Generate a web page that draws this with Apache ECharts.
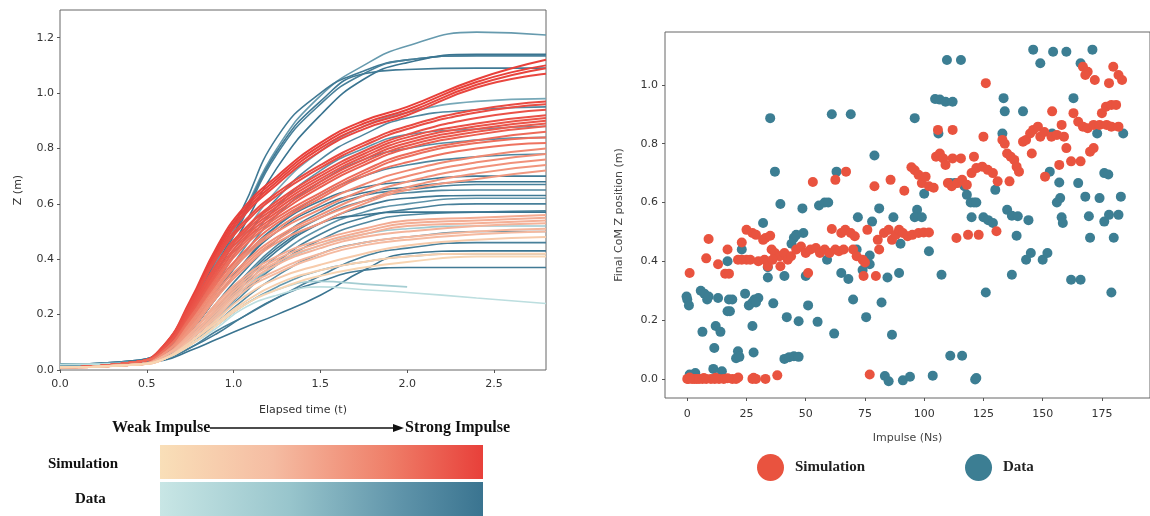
<!DOCTYPE html>
<html>
<head>
<meta charset="utf-8">
<title>Impulse vs Z</title>
<script src="https://cdn.jsdelivr.net/npm/echarts@6/dist/echarts.min.js"></script>
<style>
  html, body { margin: 0; padding: 0; background: #fff; }
  #main { width: 1150px; height: 516px; }
</style>
</head>
<body>
<div id="main"></div>
<script>
// time samples for the trajectories (s)
var times = [0, 0.45, 0.6, 0.75, 0.9, 1.05, 1.25, 1.5, 1.75, 2.0, 2.4, 2.8];

// measured trajectories (Data), one row per trial
var dataCurves = [
  [0.02, 0.035, 0.08, 0.21, 0.39, 0.56, 0.80, 0.99, 1.10, 1.17, 1.22, 1.21],
  [0.02, 0.035, 0.085, 0.22, 0.40, 0.58, 0.84, 1.00, 1.08, 1.12, 1.135, 1.135],
  [0.02, 0.03, 0.075, 0.20, 0.37, 0.54, 0.78, 0.96, 1.07, 1.12, 1.135, 1.135],
  [0.02, 0.03, 0.07, 0.19, 0.35, 0.51, 0.73, 0.92, 1.05, 1.11, 1.14, 1.14],
  [0.02, 0.035, 0.08, 0.21, 0.38, 0.55, 0.79, 0.97, 1.07, 1.085, 1.09, 1.09],
  [0.02, 0.03, 0.07, 0.18, 0.33, 0.48, 0.65, 0.79, 0.88, 0.93, 0.97, 0.98],
  [0.02, 0.03, 0.07, 0.17, 0.31, 0.46, 0.62, 0.76, 0.85, 0.91, 0.94, 0.95],
  [0.02, 0.03, 0.065, 0.16, 0.29, 0.43, 0.59, 0.72, 0.80, 0.85, 0.87, 0.88],
  [0.02, 0.03, 0.06, 0.15, 0.28, 0.41, 0.56, 0.68, 0.76, 0.80, 0.83, 0.84],
  [0.02, 0.03, 0.06, 0.14, 0.26, 0.38, 0.52, 0.63, 0.70, 0.74, 0.77, 0.78],
  [0.02, 0.03, 0.06, 0.15, 0.28, 0.40, 0.52, 0.61, 0.66, 0.68, 0.70, 0.70],
  [0.02, 0.03, 0.06, 0.14, 0.26, 0.38, 0.50, 0.59, 0.64, 0.66, 0.68, 0.68],
  [0.02, 0.03, 0.055, 0.13, 0.24, 0.35, 0.47, 0.57, 0.63, 0.65, 0.67, 0.67],
  [0.02, 0.03, 0.05, 0.12, 0.22, 0.33, 0.45, 0.55, 0.61, 0.64, 0.65, 0.65],
  [0.02, 0.03, 0.05, 0.12, 0.21, 0.31, 0.43, 0.53, 0.59, 0.62, 0.63, 0.63],
  [0.02, 0.03, 0.05, 0.11, 0.20, 0.30, 0.41, 0.51, 0.57, 0.60, 0.62, 0.62],
  [0.02, 0.03, 0.05, 0.11, 0.19, 0.28, 0.39, 0.49, 0.55, 0.58, 0.60, 0.60],
  [0.02, 0.03, 0.05, 0.10, 0.18, 0.27, 0.38, 0.47, 0.53, 0.56, 0.57, 0.575],
  [0.02, 0.03, 0.05, 0.12, 0.22, 0.32, 0.44, 0.53, 0.56, 0.57, 0.57, 0.57],
  [0.02, 0.03, 0.05, 0.11, 0.20, 0.29, 0.38, 0.45, 0.49, 0.51, 0.52, 0.52],
  [0.02, 0.03, 0.045, 0.10, 0.17, 0.25, 0.34, 0.42, 0.46, 0.48, 0.50, 0.50],
  [0.02, 0.025, 0.04, 0.08, 0.14, 0.19, 0.26, 0.34, 0.41, 0.44, 0.46, 0.46],
  [0.02, 0.025, 0.035, 0.07, 0.11, 0.15, 0.20, 0.27, 0.36, 0.42, 0.43, 0.43],
  [0.02, 0.03, 0.045, 0.10, 0.16, 0.23, 0.30, 0.36, 0.39, 0.41, 0.42, 0.42],
  [0.02, 0.025, 0.04, 0.08, 0.13, 0.19, 0.26, 0.32, 0.36, 0.37, 0.37, 0.37],
  [0.02, 0.025, 0.04, 0.09, 0.16, 0.23, 0.29, 0.32, 0.31, 0.30, null, null],
  [0.02, 0.025, 0.04, 0.09, 0.15, 0.22, 0.27, 0.30, 0.29, 0.28, 0.26, 0.24]
];
// normalised impulse of each Data trial (0 weak .. 1 strong)
var dataLevel = [0.7, 0.95, 0.9, 1.0, 0.95, 0.6, 0.85, 0.75, 0.8, 0.85, 0.95, 1.0, 0.9, 0.85, 0.95, 0.75, 0.9, 0.85, 1.0, 0.35, 0.8, 0.9, 1.0, 0.7, 0.95, 0.3, 0.1];

// simulated trajectories (Simulation)
var simCurves = [
  [0.01, 0.03, 0.09, 0.25, 0.44, 0.58, 0.70, 0.82, 0.90, 0.95, 1.05, 1.12],
  [0.01, 0.03, 0.09, 0.24, 0.43, 0.57, 0.69, 0.81, 0.89, 0.94, 1.04, 1.10],
  [0.01, 0.03, 0.08, 0.23, 0.42, 0.56, 0.68, 0.80, 0.88, 0.93, 1.03, 1.09],
  [0.01, 0.03, 0.08, 0.23, 0.41, 0.55, 0.67, 0.79, 0.87, 0.92, 1.02, 1.07],
  [0.01, 0.03, 0.09, 0.24, 0.41, 0.53, 0.64, 0.74, 0.82, 0.88, 0.94, 0.97],
  [0.01, 0.03, 0.08, 0.23, 0.40, 0.52, 0.63, 0.73, 0.81, 0.87, 0.93, 0.96],
  [0.01, 0.03, 0.08, 0.22, 0.38, 0.50, 0.61, 0.71, 0.79, 0.85, 0.91, 0.94],
  [0.01, 0.03, 0.08, 0.22, 0.38, 0.50, 0.60, 0.70, 0.78, 0.84, 0.89, 0.92],
  [0.01, 0.03, 0.08, 0.21, 0.37, 0.49, 0.59, 0.69, 0.77, 0.83, 0.88, 0.91],
  [0.01, 0.03, 0.07, 0.20, 0.36, 0.48, 0.58, 0.68, 0.76, 0.82, 0.87, 0.90],
  [0.01, 0.03, 0.07, 0.20, 0.35, 0.47, 0.57, 0.67, 0.75, 0.81, 0.86, 0.89],
  [0.01, 0.03, 0.07, 0.19, 0.34, 0.46, 0.56, 0.66, 0.74, 0.80, 0.85, 0.88],
  [0.01, 0.03, 0.07, 0.19, 0.33, 0.45, 0.55, 0.64, 0.72, 0.78, 0.83, 0.86],
  [0.01, 0.02, 0.07, 0.18, 0.32, 0.44, 0.54, 0.63, 0.71, 0.77, 0.82, 0.84],
  [0.01, 0.02, 0.06, 0.17, 0.31, 0.42, 0.53, 0.62, 0.70, 0.75, 0.80, 0.82],
  [0.01, 0.02, 0.06, 0.17, 0.30, 0.41, 0.51, 0.60, 0.67, 0.72, 0.77, 0.80],
  [0.01, 0.02, 0.06, 0.16, 0.29, 0.40, 0.50, 0.58, 0.65, 0.70, 0.75, 0.78],
  [0.01, 0.02, 0.06, 0.15, 0.28, 0.38, 0.48, 0.56, 0.63, 0.68, 0.73, 0.76],
  [0.01, 0.02, 0.05, 0.15, 0.27, 0.37, 0.47, 0.55, 0.61, 0.66, 0.71, 0.74],
  [0.01, 0.02, 0.05, 0.14, 0.26, 0.36, 0.46, 0.53, 0.60, 0.65, 0.69, 0.72],
  [0.01, 0.02, 0.05, 0.13, 0.24, 0.33, 0.41, 0.47, 0.51, 0.54, 0.55, 0.56],
  [0.01, 0.02, 0.05, 0.13, 0.23, 0.32, 0.40, 0.46, 0.50, 0.53, 0.54, 0.55],
  [0.01, 0.02, 0.05, 0.12, 0.22, 0.31, 0.39, 0.45, 0.49, 0.52, 0.53, 0.54],
  [0.01, 0.02, 0.05, 0.12, 0.21, 0.30, 0.38, 0.44, 0.48, 0.50, 0.52, 0.53],
  [0.01, 0.02, 0.04, 0.11, 0.20, 0.29, 0.36, 0.42, 0.46, 0.48, 0.50, 0.51],
  [0.01, 0.02, 0.04, 0.11, 0.19, 0.28, 0.35, 0.41, 0.45, 0.47, 0.49, 0.50],
  [0.01, 0.02, 0.04, 0.10, 0.18, 0.26, 0.33, 0.38, 0.42, 0.45, 0.47, 0.48],
  [0.01, 0.02, 0.04, 0.10, 0.17, 0.24, 0.31, 0.36, 0.39, 0.41, 0.42, 0.42],
  [0.01, 0.02, 0.04, 0.09, 0.16, 0.23, 0.29, 0.34, 0.37, 0.39, 0.41, 0.41]
];
var simLevel = [1.0, 1.0, 0.98, 0.97, 0.95, 0.94, 0.92, 0.92, 0.9, 0.9, 0.88, 0.86, 0.8, 0.78, 0.76, 0.65, 0.63, 0.6, 0.58, 0.56, 0.45, 0.44, 0.42, 0.4, 0.38, 0.36, 0.2, 0.15, 0.1];

// final CoM Z position vs impulse (scatter)
var simImpulse = [0, 0.5, 2, 3, 4, 5, 6.4, 8, 10, 11.6, 13.4, 15.4, 19, 20.6, 27.5, 29, 33, 38, 77, 1, 7, 12, 17, 21.5, 28,
  1, 8, 9, 13, 16, 17.6, 17, 21.4, 23, 23, 25, 27.5, 25, 26.6, 30, 29, 32, 33, 35, 32.6, 34, 35.6, 37, 39, 41, 42.4, 43.8,
  46, 48, 50, 52, 54.3, 56, 58, 60, 62.5, 64, 36, 39.3, 53, 51, 61, 62.5, 67, 65, 66.7, 69, 70.7, 66, 70, 71.5, 74, 75,
  74.4, 76, 79, 79.6, 80.4, 81, 83, 85, 86.4, 88, 89.4, 91, 93, 95, 97.6, 85.8, 91.6, 94.6, 96, 97.6, 99, 100.6, 99.8,
  102, 102, 104, 105, 106.6, 108, 109, 105.8, 112, 110, 111.6, 114, 112, 115.5, 113.6, 118.5, 123, 116, 118, 121, 120,
  122, 124.5, 126.8, 129, 125, 126, 130.5, 131, 134, 135, 136.5, 138, 139, 140, 136, 133, 141.7, 143, 144.7, 146, 148,
  145.4, 149, 150.7, 151, 154, 153.7, 156, 158, 159, 160, 157, 162, 163, 165, 167, 166, 167, 169, 168, 170, 171.5, 169,
  171.5, 174, 177, 179, 172, 175, 176.7, 179, 181, 178, 179.8, 182, 183.5, 182];
var simZ = [0, 0, 0, 0, 0, 0, 0, 0, 0, 0, 0, 0, 0, 0, 0, 0, 0, 0.012, 0.015, 0.005, 0.003, 0.004, 0.002, 0.005, 0.004,
  0.36, 0.41, 0.476, 0.39, 0.358, 0.358, 0.44, 0.405, 0.405, 0.464, 0.507, 0.496, 0.405, 0.405, 0.40, 0.49, 0.473, 0.479,
  0.487, 0.405, 0.383, 0.44, 0.428, 0.417, 0.428, 0.405, 0.417,
  0.44, 0.45, 0.428, 0.44, 0.445, 0.428, 0.44, 0.428, 0.44, 0.434, 0.405, 0.383, 0.67, 0.36, 0.51, 0.677, 0.705, 0.496,
  0.507, 0.496, 0.485, 0.44, 0.44, 0.417, 0.405, 0.396,
  0.35, 0.507, 0.655, 0.35, 0.473, 0.44, 0.496, 0.507, 0.473, 0.49, 0.507, 0.496, 0.485, 0.49, 0.496, 0.677, 0.64, 0.72,
  0.71, 0.694, 0.666, 0.688, 0.498,
  0.498, 0.655, 0.65, 0.756, 0.767, 0.75, 0.728, 0.847, 0.847, 0.666, 0.655, 0.666, 0.75, 0.75, 0.479, 0.49, 0.49, 0.677,
  0.66, 0.756, 0.70,
  0.717, 0.722, 0.711, 0.70, 0.824, 1.006, 0.502, 0.672, 0.80, 0.767, 0.756, 0.745, 0.722, 0.705, 0.672, 0.813, 0.807,
  0.813, 0.835, 0.847, 0.858,
  0.767, 0.824, 0.84, 0.688, 0.91, 0.824, 0.83, 0.864, 0.824, 0.785, 0.728, 0.74, 0.904, 0.875, 0.858, 0.74, 1.062, 1.045,
  1.034, 0.773, 0.785, 0.853,
  0.864, 0.864, 0.864, 0.858, 1.017, 0.904, 0.926, 0.932, 0.932, 1.006, 1.062, 1.034, 1.017, 0.858];

var dataImpulse = [0, 0.7, -0.3, 5.7, 7.2, 8.4, 9, 13, 17.6, 6.4, 11.4, 12, 14, 17, 18, 17, 19, 21.4, 20.6, 22, 24.4, 26,
  27.5, 28.4, 30, 29, 27.5, 28, 23, 32, 34, 34, 35, 37, 36.3, 39.3, 41, 42, 47, 41, 43, 45, 47, 48.6, 45, 49, 50, 51, 55,
  55.6, 58, 59.5, 59, 61, 62, 63, 65, 68, 69, 70, 72, 71.5, 75.5, 74, 77, 77, 78, 79, 81, 82, 83.4, 85, 84.5, 86.4, 87,
  89.4, 90, 91, 94, 96, 97, 96, 99, 100, 102, 103.6, 104.6, 106.6, 109, 112, 106, 107.3, 109.6, 115.5, 111, 116, 111, 113,
  117, 118, 119.6, 121, 120, 121.5, 122, 125, 127, 129, 122, 126, 130, 133, 133.5, 134, 135, 137, 139.5, 137, 139, 141.7,
  144, 143, 145, 146, 149, 150, 152, 153, 154.4, 154, 156, 157.4, 158, 157, 158.5, 160, 162, 166, 163, 165, 166, 168,
  169.5, 170, 171, 173, 174, 176, 176, 177.7, 178, 182, 179, 180, 183, 184, 1, 3.4, 11, 14.6, 44, 46];
var dataZ = [0.27, 0.25, 0.28, 0.30, 0.29, 0.27, 0.28, 0.275, 0.27, 0.16, 0.105, 0.18, 0.16, 0.23, 0.23, 0.40, 0.27, 0.094,
  0.07, 0.075, 0.29, 0.25, 0.26, 0.27, 0.275, 0.26, 0.18, 0.09, 0.44, 0.53, 0.38, 0.345, 0.887, 0.705, 0.257, 0.595, 0.35,
  0.21, 0.196, 0.068, 0.074, 0.077, 0.075, 0.58, 0.48, 0.496, 0.35, 0.25, 0.194, 0.59, 0.60, 0.60, 0.405, 0.90, 0.154,
  0.705, 0.36, 0.34, 0.90, 0.27, 0.55, 0.44, 0.21, 0.37, 0.39, 0.42, 0.535, 0.76, 0.58, 0.26, 0.01, -0.008, 0.345, 0.15,
  0.55, 0.36, 0.46, -0.005, 0.007, 0.887, 0.575, 0.55, 0.55, 0.63, 0.434, 0.011, 0.952, 0.95, 0.943, 0.943, 0.835, 0.354,
  1.085, 1.085, 0.079, 0.079, 0.666, 0.666, 0.655, 0.626, 0.60, 0.60, 0.55, -0.002, 0.003, 0.55, 0.54, 0.53, 0.60, 0.294,
  0.643, 0.835, 0.955, 0.91, 0.575, 0.555, 0.553, 0.354, 0.487, 0.91, 0.54, 0.405, 0.428, 1.12, 1.074, 0.405, 0.428,
  0.705, 1.113, 0.835, 0.60, 0.615, 0.55, 0.668, 0.53, 1.113, 0.337, 0.337, 0.955, 0.666, 1.074, 0.62, 0.553, 0.48, 1.12,
  0.835, 0.615, 0.535, 0.70, 0.695, 0.558, 0.558, 0.294, 0.48, 0.62, 0.835, 0.015, 0.02, 0.034, 0.026, 0.46, 0.49];

var tTicks = [0, 0.5, 1.0, 1.5, 2.0, 2.5];
var zTicks = [0, 0.2, 0.4, 0.6, 0.8, 1.0, 1.2];
var impulseTicks = [0, 25, 50, 75, 100, 125, 150, 175];
var finalZTicks = [0, 0.2, 0.4, 0.6, 0.8, 1.0];

// colour maps (weak -> strong)
var simStops = [[0, '#f9dfb8'], [0.35, '#f5bca2'], [0.7, '#ef806a'], [1, '#e8403a']];
var dataStops = [[0, '#c8e6e5'], [0.4, '#98c5cc'], [0.75, '#5e93a9'], [1, '#3a7490']];

function hex2rgb(h) {
  return [parseInt(h.substr(1, 2), 16), parseInt(h.substr(3, 2), 16), parseInt(h.substr(5, 2), 16)];
}
function cmap(stops, v) {
  for (var i = 1; i < stops.length; i++) {
    if (v <= stops[i][0]) {
      var a = hex2rgb(stops[i - 1][1]), b = hex2rgb(stops[i][1]);
      var f = (v - stops[i - 1][0]) / (stops[i][0] - stops[i - 1][0]);
      return 'rgb(' + a.map(function (x, k) { return Math.round(x + (b[k] - x) * f); }).join(',') + ')';
    }
  }
  return stops[stops.length - 1][1];
}
function grad(stops) {
  return new echarts.graphic.LinearGradient(0, 0, 1, 0, stops.map(function (s) { return { offset: s[0], color: s[1] }; }));
}
function zip(xs, ys) {
  var out = [];
  for (var i = 0; i < xs.length; i++) { if (ys[i] != null) out.push([xs[i], ys[i]]); }
  return out;
}

var simColor = '#e9533f';
var dataColor = '#3c7e93';
var tickFont = { fontFamily: 'DejaVu Sans', fontSize: 11, color: '#333' };

var series = [];
dataCurves.forEach(function (c, i) {
  series.push({
    name: 'data-traj-' + i, type: 'line', xAxisIndex: 0, yAxisIndex: 0,
    data: zip(times, c), showSymbol: false, smooth: 0.5,
    lineStyle: { width: 1.6, color: cmap(dataStops, dataLevel[i]) },
    silent: true, z: 2
  });
});
simCurves.forEach(function (c, i) {
  series.push({
    name: 'sim-traj-' + i, type: 'line', xAxisIndex: 0, yAxisIndex: 0,
    data: zip(times, c), showSymbol: false, smooth: 0.5,
    lineStyle: { width: 2, color: cmap(simStops, simLevel[i]) },
    silent: true, z: 3
  });
});
series.push({
  name: 'Data', type: 'scatter', xAxisIndex: 1, yAxisIndex: 1,
  data: zip(dataImpulse, dataZ), symbolSize: 10,
  itemStyle: { color: dataColor, opacity: 1 }, z: 2
});
series.push({
  name: 'Simulation', type: 'scatter', xAxisIndex: 1, yAxisIndex: 1,
  data: zip(simImpulse, simZ), symbolSize: 10,
  itemStyle: { color: simColor, opacity: 1 }, z: 3
});

var chart = echarts.init(document.getElementById('main'), null, { renderer: 'canvas' });
var option = {
  backgroundColor: '#fff',
  animation: false,
  grid: [
    { left: 60, top: 10, width: 486, height: 360, show: true, borderColor: '#666', borderWidth: 1, backgroundColor: 'transparent' },
    { left: 665, top: 32, width: 500, height: 366, show: true, borderColor: '#666', borderWidth: 1, backgroundColor: 'transparent' }
  ],
  xAxis: [
    {
      gridIndex: 0, type: 'value', min: 0, max: 2.8,
      name: 'Elapsed time (t)', nameLocation: 'middle', nameGap: 35,
      nameTextStyle: { fontFamily: 'DejaVu Sans', fontSize: 11, color: '#333' },
      axisLine: { show: false, onZero: false }, splitLine: { show: false },
      axisTick: { show: true, length: 3, lineStyle: { color: '#555' }, customValues: tTicks },
      axisLabel: Object.assign({ margin: 9, customValues: tTicks, formatter: function (v) { return v.toFixed(1); } }, tickFont)
    },
    {
      gridIndex: 1, type: 'value', min: -9.4, max: 195.3,
      name: 'Impulse (Ns)', nameLocation: 'middle', nameGap: 35,
      nameTextStyle: { fontFamily: 'DejaVu Sans', fontSize: 11, color: '#444' },
      axisLine: { show: false, onZero: false }, splitLine: { show: false },
      axisTick: { show: true, length: 3, lineStyle: { color: '#555' }, customValues: impulseTicks },
      axisLabel: Object.assign({ margin: 11, customValues: impulseTicks, formatter: function (v) { return String(v); } }, tickFont)
    }
  ],
  yAxis: [
    {
      gridIndex: 0, type: 'value', min: 0, max: 1.3,
      name: 'Z (m)', nameLocation: 'middle', nameGap: 36, nameRotate: 90,
      nameTextStyle: { fontFamily: 'DejaVu Sans', fontSize: 11, color: '#333' },
      axisLine: { show: false, onZero: false }, splitLine: { show: false },
      axisTick: { show: true, length: 3, lineStyle: { color: '#555' }, customValues: zTicks },
      axisLabel: Object.assign({ margin: 6, customValues: zTicks, formatter: function (v) { return v.toFixed(1); } }, tickFont)
    },
    {
      gridIndex: 1, type: 'value', min: -0.065, max: 1.18,
      name: 'Final CoM Z position (m)', nameLocation: 'middle', nameGap: 40, nameRotate: 90,
      nameTextStyle: { fontFamily: 'DejaVu Sans', fontSize: 11, color: '#444' },
      axisLine: { show: false, onZero: false }, splitLine: { show: false },
      axisTick: { show: true, length: 3, lineStyle: { color: '#555' }, customValues: finalZTicks },
      axisLabel: Object.assign({ margin: 7, customValues: finalZTicks, formatter: function (v) { return v.toFixed(1); } }, tickFont)
    }
  ],
  legend: {
    data: ['Simulation', 'Data'], left: 752, top: 449, orient: 'horizontal',
    icon: 'circle', itemWidth: 27, itemHeight: 28, itemGap: 100, selectedMode: false,
    textStyle: { fontFamily: 'Liberation Serif', fontWeight: 'bold', fontSize: 15, color: '#222', padding: [0, 0, 0, 6] }
  },
  graphic: [
    { type: 'text', x: 112, y: 428, style: { text: 'Weak Impulse', fontFamily: 'Liberation Serif', fontWeight: 'bold', fontSize: 16, fill: '#111', verticalAlign: 'middle' } },
    { type: 'line', shape: { x1: 210, y1: 428, x2: 396, y2: 428 }, style: { stroke: '#111', lineWidth: 1.5 } },
    { type: 'polygon', shape: { points: [[404, 428], [393, 424], [393, 432]] }, style: { fill: '#111' } },
    { type: 'text', x: 405, y: 428, style: { text: 'Strong Impulse', fontFamily: 'Liberation Serif', fontWeight: 'bold', fontSize: 16, fill: '#111', verticalAlign: 'middle' } },
    { type: 'rect', shape: { x: 160, y: 445, width: 323, height: 34 }, style: { fill: grad(simStops) } },
    { type: 'rect', shape: { x: 160, y: 482, width: 323, height: 34 }, style: { fill: grad(dataStops) } },
    { type: 'text', x: 48, y: 464, style: { text: 'Simulation', fontFamily: 'Liberation Serif', fontWeight: 'bold', fontSize: 15, fill: '#111', verticalAlign: 'middle' } },
    { type: 'text', x: 75, y: 499, style: { text: 'Data', fontFamily: 'Liberation Serif', fontWeight: 'bold', fontSize: 15, fill: '#111', verticalAlign: 'middle' } }
  ],
  series: series
};
chart.setOption(option, true);
</script>
</body>
</html>
